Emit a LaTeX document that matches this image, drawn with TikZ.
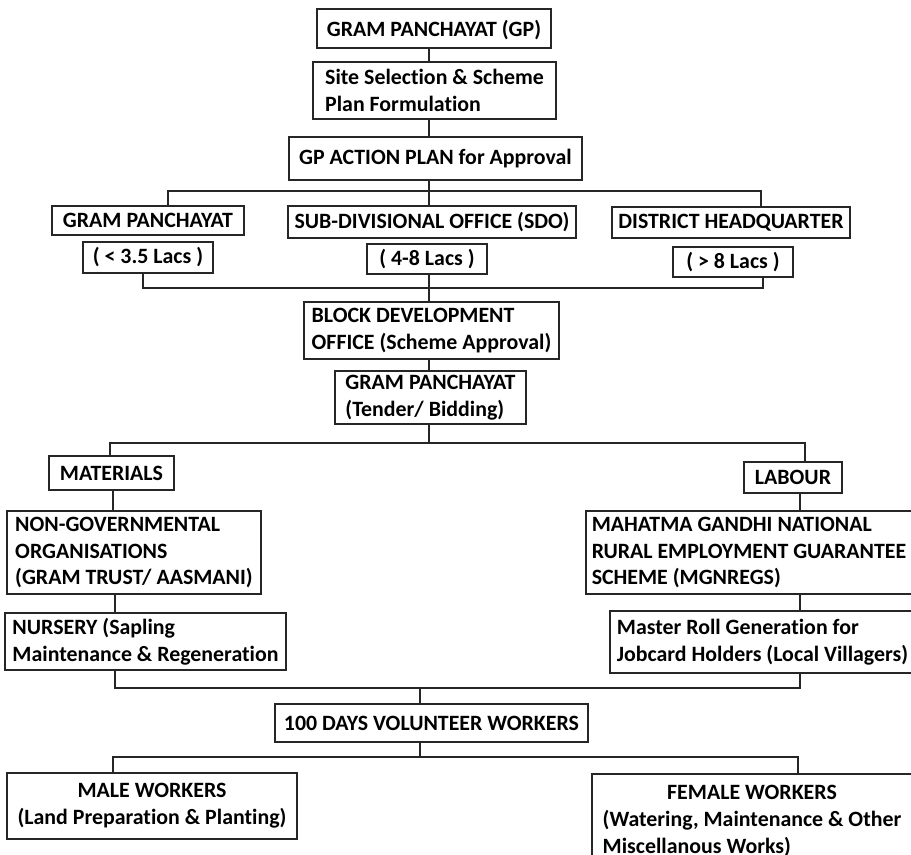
\documentclass[tikz,border=0pt]{standalone}
\usepackage{fontspec}
\setmainfont{Carlito}[Ligatures=NoCommon]
\newcommand{\mybox}[7][]{\node[box,#1,minimum width={(#4-#2)*0.75pt},minimum height={(#5-#3)*0.75pt}] (#6) at ({(#2+#4)/2},{(#3+#5)/2}) {#7};}
\begin{document}
\begin{tikzpicture}[x=0.75pt,y=-0.75pt,
  box/.style={draw=black!85, line width=1pt, inner sep=0pt, align=left, font=\bfseries\fontsize{16.4}{20.2}\selectfont},
  conn/.style={draw=black!85, line width=1pt}]
\useasboundingbox (0,0) rectangle (911,854);
\clip (0,0) rectangle (911,854);
% nodes
\mybox[text depth=0pt]{317}{9}{551}{48}{gp}{GRAM PANCHAYAT (GP)}
\mybox{313}{62}{556}{119}{site}{Site Selection \& Scheme\\Plan Formulation}
\mybox{289}{137}{582}{180}{act}{GP ACTION PLAN for Approval}
\mybox{52}{206}{244}{235}{gp2}{GRAM PANCHAYAT}
\mybox{83}{242}{213}{273}{l1}{( < 3.5 Lacs )}
\mybox{288}{206}{576}{238}{sdo}{SUB-DIVISIONAL OFFICE (SDO)}
\mybox{367}{244}{487}{274}{l2}{( 4-8 Lacs )}
\mybox{612}{207}{850}{238}{dh}{DISTRICT HEADQUARTER}
\mybox{673}{247}{793}{277}{l3}{( > 8 Lacs )}
\mybox{304}{302}{559}{359}{bdo}{BLOCK DEVELOPMENT\\OFFICE (Scheme Approval)}
\mybox{335}{371}{526}{424}{ten}{GRAM PANCHAYAT\\(Tender/ Bidding)}
\mybox{49}{456}{174}{490}{mat}{MATERIALS}
\mybox{7}{511}{261}{594}{ngo}{NON-GOVERNMENTAL\\ORGANISATIONS\\(GRAM TRUST/ AASMANI)}
\mybox{5}{613}{286}{670}{nur}{NURSERY (Sapling\\Maintenance \& Regeneration}
\mybox{744}{462}{842}{493}{lab}{LABOUR}
\mybox{586}{511}{912}{594}{mg}{MAHATMA GANDHI NATIONAL\\RURAL EMPLOYMENT GUARANTEE\\SCHEME (MGNREGS)}
\mybox{610}{611}{915}{673}{mr}{Master Roll Generation for\\Jobcard Holders (Local Villagers)}
\mybox{275}{704}{588}{742}{hd}{100 DAYS VOLUNTEER WORKERS}
\mybox[align=center]{7}{773}{297}{839}{male}{MALE WORKERS\\(Land Preparation \& Planting)}
\mybox{592}{774}{912}{869}{fem}{\begin{tabular}{@{}l@{}}\multicolumn{1}{@{}c@{}}{FEMALE WORKERS}\\(Watering, Maintenance \& Other\\Miscellanous Works)\end{tabular}}
% column coordinates
\coordinate (c1) at (429,191);
\coordinate (b1) at (168,191);
\coordinate (b3) at (761,191);
\coordinate (d1) at (143,288);
\coordinate (d3) at (763,288);
\coordinate (c2) at (429,443);
\coordinate (m1) at (110,443);
\coordinate (m2) at (805,443);
\coordinate (n1) at (113,0);
\coordinate (n2) at (115,0);
\coordinate (r1) at (800,0);
\coordinate (e1) at (115,688);
\coordinate (e2) at (800,688);
\coordinate (ce) at (420,688);
\coordinate (f1) at (113,757);
\coordinate (f2) at (798,757);
\coordinate (cf) at (420,757);
% connectors
\draw[conn] (gp.south -| c1) -- (site.north -| c1);
\draw[conn] (site.south -| c1) -- (act.north -| c1);
\draw[conn] (act.south -| c1) -- (sdo.north -| c1);
\draw[conn] (gp2.north -| b1) -- (b1) -- (b3) -- (dh.north -| b3);
\draw[conn] (l1.south -| d1) -- (d1) -- (d3) -- (l3.south -| d3);
\draw[conn] (l2.south -| c1) -- (bdo.north -| c1);
\draw[conn] (bdo.south -| c1) -- (ten.north -| c1);
\draw[conn] (ten.south -| c2) -- (c2);
\draw[conn] (mat.north -| m1) -- (m1) -- (m2) -- (lab.north -| m2);
\draw[conn] (mat.south -| n1) -- (ngo.north -| n1);
\draw[conn] (ngo.south -| n2) -- (nur.north -| n2);
\draw[conn] (lab.south -| r1) -- (mg.north -| r1);
\draw[conn] (mg.south -| r1) -- (mr.north -| r1);
\draw[conn] (nur.south -| e1) -- (e1) -- (e2) -- (mr.south -| e2);
\draw[conn] (ce) -- (hd.north -| ce);
\draw[conn] (hd.south -| cf) -- (cf);
\draw[conn] (male.north -| f1) -- (f1) -- (f2) -- (fem.north -| f2);
\end{tikzpicture}
\end{document}
